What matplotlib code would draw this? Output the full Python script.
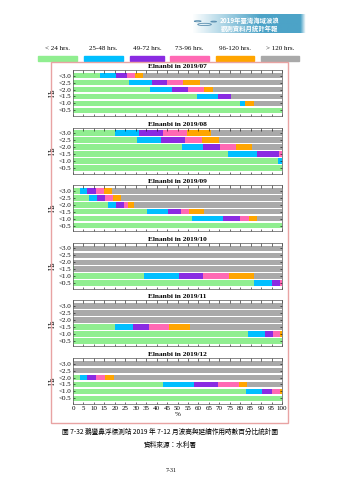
import numpy as np
import matplotlib
matplotlib.use("Agg")
import matplotlib.pyplot as plt
from matplotlib.patches import Rectangle, Circle

plt.rcParams['font.family'] = ['Liberation Serif', 'Noto Sans CJK TC']

# --- data: percentage of time per duration class, rows from Hs<3.0 down to Hs<0.5 ---
hs_labels = ["<3.0", "<2.5", "<2.0", "<1.5", "<1.0", "<0.5"]
class_labels = ["< 24 hrs.", "25-48 hrs.", "49-72 hrs.", "73-96 hrs.", "96-120 hrs.", "> 120 hrs."]
class_colors = ["#90ee90", "#00bfff", "#8a2be2", "#ff69b4", "#ffa500", "#a9a9a9"]
months = ["2019/07", "2019/08", "2019/09", "2019/10", "2019/11", "2019/12"]

jul = [[12.8, 7.7, 5.1, 4.0, 4.0, 66.4],
       [26.7, 10.9, 7.5, 7.7, 8.0, 39.2],
       [36.8, 10.4, 7.7, 7.8, 4.5, 32.8],
       [59.5, 9.8, 6.2, 0.3, 0.0, 24.2],
       [80.0, 2.4, 0.0, 0.0, 4.0, 13.6],
       [100.0, 0.0, 0.0, 0.0, 0.0, 0.0]]
aug = [[20.0, 11.5, 11.7, 11.5, 11.4, 33.9],
       [30.4, 11.7, 11.5, 8.3, 7.9, 30.2],
       [52.2, 10.2, 8.0, 7.7, 7.7, 14.2],
       [74.2, 14.0, 10.4, 1.4, 0.0, 0.0],
       [97.9, 2.1, 0.0, 0.0, 0.0, 0.0],
       [100.0, 0.0, 0.0, 0.0, 0.0, 0.0]]
sep = [[3.2, 3.7, 4.3, 3.5, 4.0, 81.3],
       [7.5, 3.9, 4.0, 3.8, 4.0, 76.8],
       [16.6, 3.9, 3.8, 1.8, 3.3, 70.6],
       [35.2, 10.2, 6.3, 3.8, 7.4, 37.1],
       [56.8, 15.0, 8.2, 4.0, 4.0, 12.0],
       [100.0, 0.0, 0.0, 0.0, 0.0, 0.0]]
oct_ = [[0.0, 0.0, 0.0, 0.0, 0.0, 100.0],
        [0.0, 0.0, 0.0, 0.0, 0.0, 100.0],
        [0.0, 0.0, 0.0, 0.0, 0.0, 100.0],
        [0.5, 0.0, 0.0, 0.0, 0.0, 99.5],
        [33.9, 16.8, 11.7, 12.3, 11.7, 13.6],
        [86.7, 8.7, 3.8, 0.8, 0.0, 0.0]]
nov = [[0.0, 0.0, 0.0, 0.0, 0.0, 100.0],
       [0.0, 0.0, 0.0, 0.0, 0.0, 100.0],
       [0.0, 0.0, 0.0, 0.0, 0.0, 100.0],
       [20.0, 8.5, 7.8, 9.8, 9.9, 44.0],
       [83.5, 8.5, 3.7, 3.5, 0.8, 0.0],
       [100.0, 0.0, 0.0, 0.0, 0.0, 0.0]]
dec = [[0.0, 0.0, 0.0, 0.0, 0.0, 100.0],
       [0.0, 0.0, 0.0, 0.0, 0.0, 100.0],
       [3.2, 3.7, 4.3, 4.2, 4.0, 80.6],
       [43.0, 14.9, 11.7, 9.9, 3.7, 16.8],
       [82.9, 7.7, 4.8, 3.8, 0.8, 0.0],
       [100.0, 0.0, 0.0, 0.0, 0.0, 0.0]]
month_data = [jul, aug, sep, oct_, nov, dec]

W, H = 339, 480
fig = plt.figure(figsize=(W / 100, H / 100), dpi=100)

def fx(px):
    return px / W

def fy(py):
    return 1 - py / H

# --- header banner (gradient box) ---
hax = fig.add_axes([fx(192), fy(33), fx(114), 19 / H])
grad = np.zeros((1, 200, 4))
grad[0, :, 0] = 0.22
grad[0, :, 1] = 0.60
grad[0, :, 2] = 0.76
grad[0, :, 3] = np.concatenate([np.linspace(0, 0.9, 120), np.full(70, 0.9), np.linspace(0.9, 0, 10)])
hax.imshow(grad, aspect="auto", extent=[0, 1, 0, 1])
hax.set_xlim(0, 1)
hax.set_ylim(0, 1)
hax.axis("off")
for cx, cy, r in [(0.05, 0.62, 0.03), (0.11, 0.45, 0.06), (0.19, 0.6, 0.025)]:
    hax.add_patch(Circle((cx, cy), r, transform=hax.transAxes, fill=False,
                         ec="#5a8fb0", lw=0.6))
fig.text(fx(250), fy(20), "2019年臺灣海域波浪", color="white", fontsize=4.6,
         ha="center", va="center", fontweight="bold", family=["Noto Sans CJK TC"])
fig.text(fx(250), fy(28), "觀測資料月統計年報", color="white", fontsize=4.6,
         ha="center", va="center", fontweight="bold", family=["Noto Sans CJK TC"])

# --- legend row ---
leg_left = [38, 84, 130, 170, 216, 261]
leg_right = [77, 123, 164, 209, 254, 299]
for lab, col, l, r in zip(class_labels, class_colors, leg_left, leg_right):
    fig.text(fx((l + r) / 2), fy(48), lab, fontsize=5, ha="center", va="center")
    fig.patches.append(Rectangle((fx(l), fy(61)), fx(r - l), 5 / H, color=col,
                                 transform=fig.transFigure, figure=fig))

# --- border box ---
fig.patches.append(Rectangle((fx(51), fy(423)), fx(237), (423 - 62) / H, fill=False,
                             ec="#e8a3a3", lw=1.0, transform=fig.transFigure, figure=fig))

# --- panels ---
ax_left, ax_width = 73, 209
ax_h = 46
for i, (month, data) in enumerate(zip(months, month_data)):
    bottom_px = 116 + 57.6 * i
    ax = fig.add_axes([fx(ax_left), fy(bottom_px), fx(ax_width), ax_h / H])
    data = np.array(data)
    y = np.arange(len(hs_labels))
    left = np.zeros(len(hs_labels))
    for k in range(data.shape[1]):
        ax.barh(y, data[:, k], left=left, height=0.8, color=class_colors[k], linewidth=0)
        left += data[:, k]
    ax.set_xlim(0, 100)
    ax.set_ylim(5.8, -0.8)
    ax.set_yticks(y)
    ax.set_yticklabels(hs_labels, fontsize=5)
    ax.set_xticks(np.arange(0, 101, 5))
    ax.tick_params(axis="x", direction="in", length=1.8, width=0.4, pad=1.5,
                   top=True, bottom=True)
    ax.tick_params(axis="y", direction="in", length=1.5, width=0.4, pad=1.5,
                   left=True, right=True)
    if i == len(months) - 1:
        ax.set_xticklabels([str(v) for v in range(0, 101, 5)], fontsize=5)
        ax.set_xlabel("%", fontsize=5, labelpad=0.5)
    else:
        ax.set_xticklabels([])
    ax.set_ylabel("Hs", fontsize=5.5, labelpad=1)
    ax.set_title("Elnanbi in " + month, fontsize=5.3, fontweight="bold", pad=1.5)
    for sp in ax.spines.values():
        sp.set_linewidth(0.5)
        sp.set_color("#555555")

# --- caption ---
fig.text(fx(170), fy(432), "圖 7-32 鵝鑾鼻浮標測站 2019 年 7-12 月波高與延續作用時數百分比統計圖",
         fontsize=4.8, ha="center", va="center", family=["Noto Sans CJK TC"])
fig.text(fx(170), fy(445), "資料來源：水利署", fontsize=4.8, ha="center", va="center",
         family=["Noto Sans CJK TC"])
fig.text(fx(171), fy(471), "7-31", fontsize=4.2, ha="center", va="center")

fig.savefig("out.png", dpi=100)
plt.close(fig)
